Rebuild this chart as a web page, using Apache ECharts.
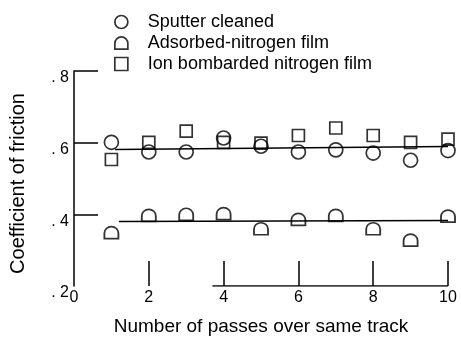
<!DOCTYPE html>
<html>
<head>
<meta charset="utf-8">
<script src="https://cdn.jsdelivr.net/npm/echarts@6/dist/echarts.min.js"></script>
<style>html,body{margin:0;padding:0;background:#fff;}#c{width:461px;height:341px;}</style>
</head>
<body>
<div id="c"></div>
<script>
const passes = [1, 2, 3, 4, 5, 6, 7, 8, 9, 10];
const sputterCleaned = [0.601, 0.574, 0.574, 0.613, 0.590, 0.574, 0.580, 0.571, 0.551, 0.578];
const adsorbedNitrogen = [0.349, 0.397, 0.400, 0.402, 0.360, 0.386, 0.397, 0.360, 0.328, 0.395];
const ionBombarded = [0.553, 0.601, 0.632, 0.601, 0.599, 0.620, 0.641, 0.620, 0.601, 0.610];
const upperFit = [[1.1, 0.581], [10, 0.589]];
const lowerFit = [[1.2, 0.380], [10, 0.383]];
const xAxisSegment = [[3.7, 0.2], [10, 0.2]];
const xTicks = [2, 4, 6, 8, 10];
const yTicks = [0.4, 0.6, 0.8];
const seriesNames = ['Sputter cleaned', 'Adsorbed-nitrogen film', 'Ion bombarded nitrogen film'];

const FONT = 'Liberation Sans, Arial, sans-serif';
const dome = 'path://M0,13 L0,7 A7,7 0 0 1 14,7 L14,13 Z';
const pts = arr => passes.map((p, i) => [p, arr[i]]);
const markStyle = { color: 'rgba(0,0,0,0)', borderColor: '#000', borderWidth: 1.7 };

const chart = echarts.init(document.getElementById('c'), null, { renderer: 'canvas' });
chart.setOption({
  animation: false,
  backgroundColor: '#fff',
  grid: { left: 73, right: 13, top: 71, bottom: 51 },
  legend: {
    orient: 'vertical', left: 109, top: 8, itemGap: 3,
    itemWidth: 13, itemHeight: 13,
    data: seriesNames,
    textStyle: { fontFamily: FONT, fontSize: 18, color: '#000', padding: [0, 0, 0, 15] },
    itemStyle: { borderColor: '#000', borderWidth: 1.7, color: 'rgba(0,0,0,0)' }
  },
  xAxis: {
    type: 'value', min: 0, max: 10, interval: 2,
    name: 'Number of passes over same track', nameLocation: 'middle', nameGap: 31,
    nameTextStyle: { fontFamily: FONT, fontSize: 19, color: '#000' },
    axisLine: { show: false },
    axisTick: { show: true, inside: true, length: 25, customValues: xTicks, lineStyle: { color: '#000', width: 1.5 } },
    axisLabel: { fontFamily: FONT, fontSize: 16, color: '#000', margin: 4 },
    splitLine: { show: false }
  },
  yAxis: {
    type: 'value', min: 0.2, max: 0.8, interval: 0.2,
    name: 'Coefficient of friction', nameLocation: 'middle', nameGap: 46,
    nameTextStyle: { fontFamily: FONT, fontSize: 20, color: '#000', padding: [0, 10, 0, 0] },
    axisLine: { show: true, lineStyle: { color: '#000', width: 1.5 } },
    axisTick: { show: true, inside: true, length: 24, customValues: yTicks, lineStyle: { color: '#000', width: 1.5 } },
    axisLabel: {
      fontFamily: FONT, fontSize: 16, color: '#000', margin: 5, verticalAlign: 'top', lineHeight: 14,
      formatter: v => '. ' + Math.round(v * 10)
    },
    splitLine: { show: false }
  },
  series: [
    { type: 'line', data: upperFit, symbol: 'none', silent: true, lineStyle: { color: '#000', width: 1.5 }, z: 1 },
    { type: 'line', data: lowerFit, symbol: 'none', silent: true, lineStyle: { color: '#000', width: 1.5 }, z: 1 },
    { type: 'line', data: xAxisSegment, symbol: 'none', silent: true, lineStyle: { color: '#000', width: 1.5 }, z: 1 },
    { name: seriesNames[0], type: 'scatter', data: pts(sputterCleaned), symbol: 'circle', symbolSize: 14, itemStyle: markStyle, z: 3 },
    { name: seriesNames[1], type: 'scatter', data: pts(adsorbedNitrogen), symbol: dome, symbolSize: [14, 12], itemStyle: markStyle, z: 3 },
    { name: seriesNames[2], type: 'scatter', data: pts(ionBombarded), symbol: 'rect', symbolSize: 12, itemStyle: markStyle, z: 3 }
  ]
});
</script>
</body>
</html>
